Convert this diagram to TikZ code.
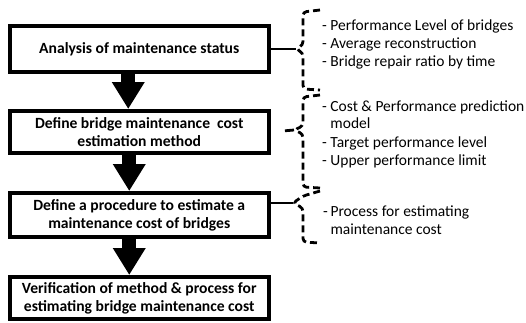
\documentclass[tikz,border=0pt]{standalone}
\usepackage{fontspec}
\setmainfont{Carlito}
\usetikzlibrary{arrows.meta,calc}
\begin{document}
\begin{tikzpicture}[x=1pt,y=-1pt,
  stepbox/.style={draw, line width=4pt, minimum width=259.5pt, inner sep=0pt,
    align=center, font=\bfseries\fontsize{15.6}{18}\selectfont},
  flowarrow/.style={line width=14pt, -{Triangle[length=27pt,width=31pt]}},
  bracepath/.style={line width=2.8pt, dash pattern=on 7pt off 4pt, rounded corners=3.5pt},
  connector/.style={line width=2.8pt},
  itemtext/.style={anchor=base west, inner sep=0pt, font=\fontsize{15.5}{18}\selectfont}]
\useasboundingbox (0,0) rectangle (526,322);
% boxes
\node[stepbox, minimum height=46pt] (b1) at (139.25,49) {Analysis of maintenance status};
\node[stepbox, minimum height=42pt] (b2) at (139.25,132) {Define bridge maintenance\ \ cost\\estimation method};
\node[stepbox, minimum height=44pt] (b3) at (139.25,215) {Define a procedure to estimate a\\maintenance cost of bridges};
\node[stepbox, minimum height=42pt] (b4) at (139.25,298) {Verification of method \& process for\\estimating bridge maintenance cost};
% flow arrows
\draw[flowarrow] ([xshift=-11pt]b1.south) -- ([xshift=-11pt]b2.north);
\draw[flowarrow] ([xshift=-10pt]b2.south) -- ([xshift=-10pt]b3.north);
\draw[flowarrow] ([xshift=-10pt]b3.south) -- ([xshift=-10pt]b4.north);
% brace tips
\coordinate (t1) at (296,49);
\coordinate (t2) at (294,130);
\coordinate (t3) at (293,203);
% braces
\draw[bracepath] (320,10) -- (303,12) -- (303,45) -- (t1) -- (303,53) -- (303,89) -- (320,90);
\draw[bracepath] (320,95) -- (303,97) -- (303,126) -- (t2) -- (303,134) -- (303,187) -- (320,188);
\draw[bracepath] (320,191) -- (303,196) -- (t3) -- (303,208) -- (303,242) -- (320,243);
% connectors
\draw[connector] (b1.east) -- (t1);
\draw[connector, dash pattern=on 0pt off 14pt on 20pt] (b2.east) -- (t2);
\draw[connector] (b3.east |- t3) -- (t3);
% texts
\node[itemtext] (i1) at (322,30.5) {- Performance Level of bridges};
\node[itemtext] (i2) at (322,48) {- Average reconstruction};
\node[itemtext] (i3) at (322,66.5) {- Bridge repair ratio by time};
\node[itemtext] (i4) at (322,111.5) {- Cost \& Performance prediction};
\node[itemtext] (i5) at (322,128.5) {\phantom{- }model};
\node[itemtext] (i6) at (322,147.5) {- Target performance level};
\node[itemtext] (i7) at (322,165.5) {- Upper performance limit};
\node[itemtext] (i8) at (323,216.5) {-\,Process for estimating};
\node[itemtext] (i9) at (323,234) {\phantom{-\,}maintenance cost};
\end{tikzpicture}
\end{document}
